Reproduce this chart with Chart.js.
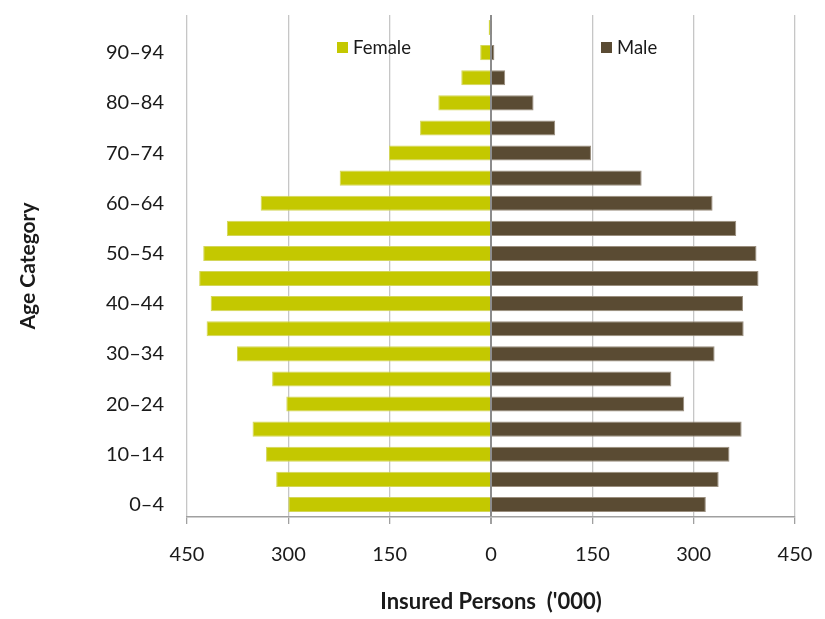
<!DOCTYPE html>
<html>
<head>
<meta charset="utf-8">
<script src="https://cdn.jsdelivr.net/npm/chart.js@4"></script>
<style>
html,body{margin:0;padding:0;background:#fff;}
#c{display:block;}
</style>
</head>
<body>
<canvas id="c" width="825" height="619"></canvas>
<script>
const categories = ['0–4','5–9','10–14','15–19','20–24','25–29','30–34','35–39','40–44','45–49','50–54','55–59','60–64','65–69','70–74','75–79','80–84','85–89','90–94','95+'];
const femaleValues = [300, 318, 333, 353, 303, 324, 376, 421, 415, 432, 426, 391, 341, 224, 151, 105, 78, 44, 16, 3.5];
const maleValues = [318, 337, 353, 371, 286, 267, 331, 374, 373, 396, 393, 363, 328, 223, 148, 95, 63, 21, 5, 1];
const xTickValues = [-450, -300, -150, 0, 150, 300, 450];
const seriesNames = ['Female', 'Male'];
const seriesColors = ['#C4C800', '#5A4B33'];
const xTitle = "Insured Persons  ('000)";
const yTitle = 'Age Category';

const FONT = 'Lato, "Open Sans", sans-serif';

const legendPlugin = {
  id: 'insideLegend',
  afterDraw(chart) {
    const ctx = chart.ctx;
    const a = chart.chartArea;
    const items = [
      {x: a.left + 150, name: seriesNames[0], color: seriesColors[0]},
      {x: a.left + 414, name: seriesNames[1], color: seriesColors[1]}
    ];
    ctx.save();
    ctx.font = '18.5px ' + FONT;
    ctx.textBaseline = 'middle';
    ctx.textAlign = 'left';
    items.forEach(it => {
      ctx.fillStyle = it.color;
      ctx.fillRect(it.x, a.top + 27, 11, 11);
      ctx.fillStyle = '#1a1a1a';
      ctx.fillText(it.name, it.x + 16, a.top + 33);
    });
    ctx.restore();
  }
};

new Chart(document.getElementById('c'), {
  type: 'bar',
  data: {
    labels: categories,
    datasets: [
      {
        label: seriesNames[0],
        data: femaleValues.map(v => -v),
        backgroundColor: seriesColors[0],
        borderColor: '#D3D65A',
        borderWidth: 1,
        barPercentage: 0.6,
        categoryPercentage: 1
      },
      {
        label: seriesNames[1],
        data: maleValues,
        backgroundColor: seriesColors[1],
        borderColor: '#9A8E7E',
        borderWidth: 1,
        barPercentage: 0.6,
        categoryPercentage: 1
      }
    ]
  },
  options: {
    indexAxis: 'y',
    responsive: false,
    animation: false,
    devicePixelRatio: 1,
    layout: {padding: {top: 15, right: 30, bottom: 0, left: 0}},
    plugins: {
      legend: {display: false},
      tooltip: {enabled: false}
    },
    scales: {
      x: {
        stacked: true,
        min: -450,
        max: 450,
        afterBuildTicks(scale) {
          scale.ticks = xTickValues.map(v => ({value: v}));
        },
        afterFit(scale) {
          scale.height = 102;
          scale.paddingLeft = 0;
          scale.paddingRight = 0;
        },
        grid: {
          color: ctx => (ctx.tick && ctx.tick.value === 0) ? '#8C8C8C' : '#C6C6C6',
          lineWidth: ctx => (ctx.tick && ctx.tick.value === 0) ? 2 : 1.3,
          tickColor: '#A0A0A0',
          tickLength: 7,
          drawTicks: true
        },
        border: {display: true, color: '#A0A0A0', width: 1.5},
        ticks: {
          callback: v => String(Math.abs(v)),
          font: {family: FONT, size: 20},
          color: '#1a1a1a',
          padding: 19,
          maxRotation: 0,
          autoSkip: false
        },
        title: {
          display: true,
          text: xTitle,
          font: {family: FONT, size: 22, weight: 'bold'},
          color: '#1a1a1a',
          padding: {top: 0, bottom: 4}
        }
      },
      y: {
        stacked: true,
        reverse: true,
        afterFit(scale) {
          scale.width = 187;
          scale.paddingTop = 0;
          scale.paddingBottom = 0;
        },
        grid: {display: false},
        border: {display: false},
        ticks: {
          autoSkip: false,
          callback: function(v, i) { return i % 2 === 0 ? this.getLabelForValue(v) : ''; },
          font: {family: FONT, size: 20},
          color: '#1a1a1a',
          padding: 15
        },
        title: {
          display: true,
          text: yTitle,
          font: {family: FONT, size: 21, weight: 'bold'},
          color: '#1a1a1a',
          padding: {top: 16, bottom: 0}
        }
      }
    }
  },
  plugins: [legendPlugin]
});
</script>
</body>
</html>
